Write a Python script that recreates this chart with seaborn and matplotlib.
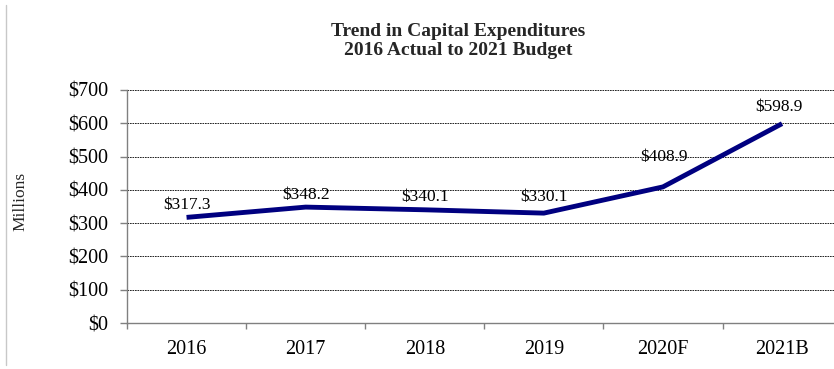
import matplotlib
matplotlib.use("Agg")
import matplotlib.pyplot as plt
import seaborn as sns
import pandas as pd
from matplotlib.lines import Line2D
from matplotlib.ticker import FixedLocator, FuncFormatter

categories = ["2016", "2017", "2018", "2019", "2020F", "2021B"]
values = [317.3, 348.2, 340.1, 330.1, 408.9, 598.9]
yticks = [0, 100, 200, 300, 400, 500, 600, 700]
title = "Trend in Capital Expenditures\n2016 Actual to 2021 Budget"
ylabel = "Millions"

sns.set_theme(style="white")
FAM = ["Liberation Serif", "DejaVu Serif"]
plt.rcParams["font.family"] = FAM

W, H = 834, 369
fig = plt.figure(figsize=(W / 100, H / 100), dpi=100)
left, right, top, bottom = 127, 841.6, 90, 323
ax = fig.add_axes([left / W, 1 - bottom / H, (right - left) / W, (bottom - top) / H])

df = pd.DataFrame({"x": range(len(categories)), "v": values})
sns.lineplot(data=df, x="x", y="v", ax=ax, color="#000080", linewidth=3.5, solid_capstyle="butt")

ax.set_xlim(-0.5, len(categories) - 0.5)
ax.set_ylim(0, 700)
ax.set_yticks(yticks)
ax.yaxis.set_major_formatter(FuncFormatter(lambda v, p: f"${v:,.0f}"))
ax.set_xticks([i - 0.5 for i in range(len(categories) + 1)])
ax.set_xticklabels([])
ax.xaxis.set_minor_locator(FixedLocator(list(range(len(categories)))))
ax.set_xticklabels(categories, minor=True)
ax.tick_params(axis="x", which="major", length=4, width=1, color="#808080", direction="out", bottom=True)
ax.tick_params(axis="x", which="minor", length=0, pad=12, labelsize=14.5, labelcolor="black")
ax.tick_params(axis="y", length=5, width=1, color="#808080", direction="out", left=True, pad=8.5,
               labelsize=14.5, labelcolor="black")
for lab in ax.get_xticklabels(minor=True) + ax.get_yticklabels():
    lab.set_fontfamily(FAM)
ax.set_xlabel("")
ax.set_ylabel("")

ax.grid(axis="y", color="black", linestyle=(0, (2, 1)), linewidth=0.6)
ax.grid(axis="x", visible=False)
for s in ["top", "right"]:
    ax.spines[s].set_visible(False)
for s in ["left", "bottom"]:
    ax.spines[s].set_color("#808080")
    ax.spines[s].set_linewidth(1.0)

label_offsets = [(0, 8.6), (0, 8.6), (0, 9.4), (0, 11.5), (1, 21.6), (-2.5, 12.2)]
for i, (v, off) in enumerate(zip(values, label_offsets)):
    ax.annotate(f"${v:,.1f}", xy=(i, v), xytext=off, textcoords="offset points",
                ha="center", va="center", fontsize=12.5, color="black", fontfamily=FAM)

fig.text(458 / W, 1 - 41 / H, title, ha="center", va="center", fontsize=14,
         fontweight="bold", linespacing=1.1, fontfamily=FAM)
fig.text(20 / W, 1 - 201 / H, ylabel, ha="center", va="center", rotation=90, fontsize=12.5,
         fontfamily=FAM)

fig.add_artist(Line2D([6 / W, 6 / W], [1 - 5 / H, 1 - 365 / H], transform=fig.transFigure,
                      color="#c8c8c8", linewidth=1))

fig.savefig("out.png", dpi=100)
